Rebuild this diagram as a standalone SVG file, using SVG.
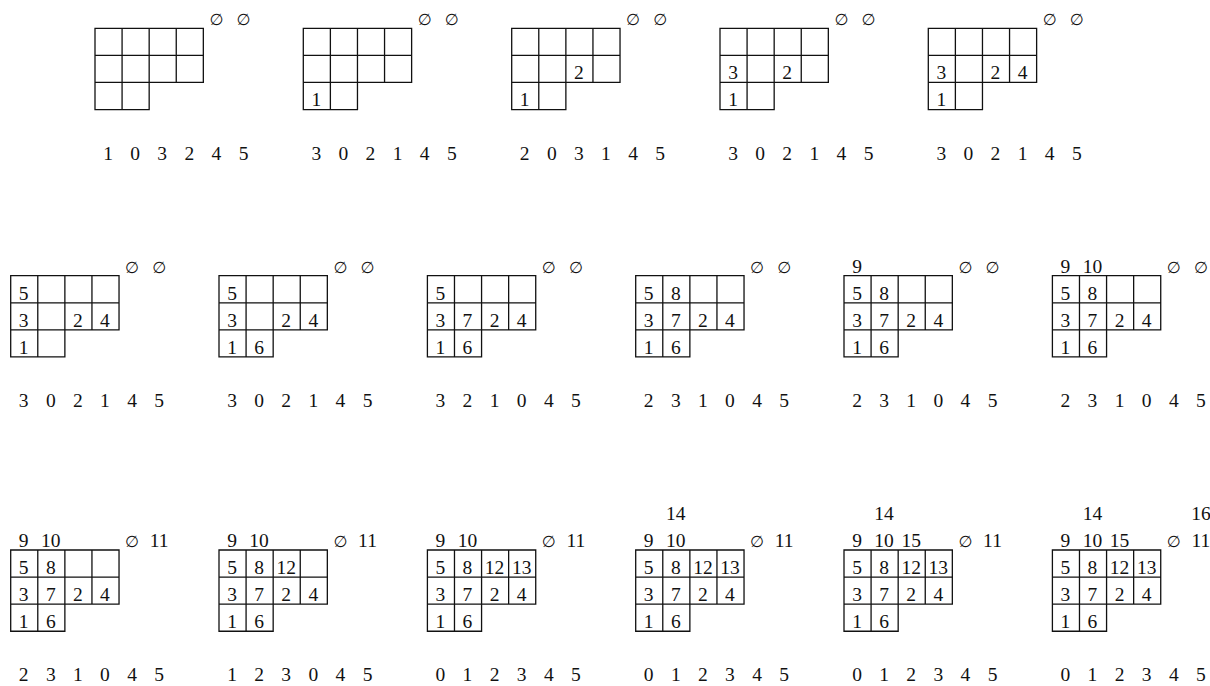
<svg xmlns="http://www.w3.org/2000/svg" xmlns:xlink="http://www.w3.org/1999/xlink" width="1210" height="686" viewBox="0 0 1210 686">
<style>
text{font-family:"Liberation Serif","DejaVu Serif",serif;font-size:19.5px;fill:#111;text-anchor:middle}
.e{font-family:"DejaVu Sans","Liberation Serif",sans-serif;font-size:16px}
.g{fill:none;stroke:#111;stroke-width:1.3}
</style>
<defs>
<path id="grid" class="g" d="M0,0H108.33V54.17H54.17V81.25H0Z M0,27.08H108.33 M0,54.17H54.17 M27.08,0V81.25 M54.17,0V54.17 M81.25,0V54.17"/>
</defs>
<rect width="1210" height="686" fill="#fff"/>

<!-- Row 1 -->
<g id="p1-1" transform="translate(95,28.3)">
<use xlink:href="#grid"/>
<text class="e" x="121.4 148.5" y="-3">∅∅</text>
<text x="13 40.1 67.2 94.3 121.4 148.5" y="131.3">103245</text>
</g>
<g id="p1-2" transform="translate(303.3,28.3)">
<use xlink:href="#grid"/>
<text class="e" x="121.4 148.5" y="-3">∅∅</text>
<text x="13" y="78.2">1</text>
<text x="13 40.1 67.2 94.3 121.4 148.5" y="131.3">302145</text>
</g>
<g id="p1-3" transform="translate(511.7,28.3)">
<use xlink:href="#grid"/>
<text class="e" x="121.4 148.5" y="-3">∅∅</text>
<text x="13" y="78.2">1</text>
<text x="67.2" y="51.2">2</text>
<text x="13 40.1 67.2 94.3 121.4 148.5" y="131.3">203145</text>
</g>
<g id="p1-4" transform="translate(720,28.3)">
<use xlink:href="#grid"/>
<text class="e" x="121.4 148.5" y="-3">∅∅</text>
<text x="13" y="78.2">1</text>
<text x="13 67.2" y="51.2">32</text>
<text x="13 40.1 67.2 94.3 121.4 148.5" y="131.3">302145</text>
</g>
<g id="p1-5" transform="translate(928.3,28.3)">
<use xlink:href="#grid"/>
<text class="e" x="121.4 148.5" y="-3">∅∅</text>
<text x="13" y="78.2">1</text>
<text x="13 67.2 94.3" y="51.2">324</text>
<text x="13 40.1 67.2 94.3 121.4 148.5" y="131.3">302145</text>
</g>

<!-- Row 2 -->
<g id="p2-1" transform="translate(10.7,275.7)">
<use xlink:href="#grid"/>
<text class="e" x="121.4 148.5" y="-3">∅∅</text>
<text x="13" y="24.1">5</text>
<text x="13 67.2 94.3" y="51.2">324</text>
<text x="13" y="78.2">1</text>
<text x="13 40.1 67.2 94.3 121.4 148.5" y="131.3">302145</text>
</g>
<g id="p2-2" transform="translate(219,275.7)">
<use xlink:href="#grid"/>
<text class="e" x="121.4 148.5" y="-3">∅∅</text>
<text x="13" y="24.1">5</text>
<text x="13 67.2 94.3" y="51.2">324</text>
<text x="13 40.1" y="78.2">16</text>
<text x="13 40.1 67.2 94.3 121.4 148.5" y="131.3">302145</text>
</g>
<g id="p2-3" transform="translate(427.4,275.7)">
<use xlink:href="#grid"/>
<text class="e" x="121.4 148.5" y="-3">∅∅</text>
<text x="13" y="24.1">5</text>
<text x="13 40.1 67.2 94.3" y="51.2">3724</text>
<text x="13 40.1" y="78.2">16</text>
<text x="13 40.1 67.2 94.3 121.4 148.5" y="131.3">321045</text>
</g>
<g id="p2-4" transform="translate(635.7,275.7)">
<use xlink:href="#grid"/>
<text class="e" x="121.4 148.5" y="-3">∅∅</text>
<text x="13 40.1" y="24.1">58</text>
<text x="13 40.1 67.2 94.3" y="51.2">3724</text>
<text x="13 40.1" y="78.2">16</text>
<text x="13 40.1 67.2 94.3 121.4 148.5" y="131.3">231045</text>
</g>
<g id="p2-5" transform="translate(844,275.7)">
<use xlink:href="#grid"/>
<text class="e" x="121.4 148.5" y="-3">∅∅</text>
<text x="13" y="-3">9</text>
<text x="13 40.1" y="24.1">58</text>
<text x="13 40.1 67.2 94.3" y="51.2">3724</text>
<text x="13 40.1" y="78.2">16</text>
<text x="13 40.1 67.2 94.3 121.4 148.5" y="131.3">231045</text>
</g>
<g id="p2-6" transform="translate(1052.4,275.7)">
<use xlink:href="#grid"/>
<text class="e" x="121.4 148.5" y="-3">∅∅</text>
<text x="13" y="-3">9</text>
<text x="40.1" y="-3">10</text>
<text x="13 40.1" y="24.1">58</text>
<text x="13 40.1 67.2 94.3" y="51.2">3724</text>
<text x="13 40.1" y="78.2">16</text>
<text x="13 40.1 67.2 94.3 121.4 148.5" y="131.3">231045</text>
</g>

<!-- Row 3 -->
<g id="p3-1" transform="translate(10.7,550)">
<use xlink:href="#grid"/>
<text class="e" x="121.4" y="-3">∅</text>
<text x="148.5" y="-3">11</text>
<text x="13" y="-3">9</text>
<text x="40.1" y="-3">10</text>
<text x="13 40.1" y="24.1">58</text>
<text x="13 40.1 67.2 94.3" y="51.2">3724</text>
<text x="13 40.1" y="78.2">16</text>
<text x="13 40.1 67.2 94.3 121.4 148.5" y="131.3">231045</text>
</g>
<g id="p3-2" transform="translate(219,550)">
<use xlink:href="#grid"/>
<text class="e" x="121.4" y="-3">∅</text>
<text x="148.5" y="-3">11</text>
<text x="13" y="-3">9</text>
<text x="40.1" y="-3">10</text>
<text x="13 40.1" y="24.1">58</text>
<text x="67.2" y="24.1">12</text>
<text x="13 40.1 67.2 94.3" y="51.2">3724</text>
<text x="13 40.1" y="78.2">16</text>
<text x="13 40.1 67.2 94.3 121.4 148.5" y="131.3">123045</text>
</g>
<g id="p3-3" transform="translate(427.4,550)">
<use xlink:href="#grid"/>
<text class="e" x="121.4" y="-3">∅</text>
<text x="148.5" y="-3">11</text>
<text x="13" y="-3">9</text>
<text x="40.1" y="-3">10</text>
<text x="13 40.1" y="24.1">58</text>
<text x="67.2" y="24.1">12</text>
<text x="94.3" y="24.1">13</text>
<text x="13 40.1 67.2 94.3" y="51.2">3724</text>
<text x="13 40.1" y="78.2">16</text>
<text x="13 40.1 67.2 94.3 121.4 148.5" y="131.3">012345</text>
</g>
<g id="p3-4" transform="translate(635.7,550)">
<use xlink:href="#grid"/>
<text class="e" x="121.4" y="-3">∅</text>
<text x="148.5" y="-3">11</text>
<text x="40.1" y="-30.1">14</text>
<text x="13" y="-3">9</text>
<text x="40.1" y="-3">10</text>
<text x="13 40.1" y="24.1">58</text>
<text x="67.2" y="24.1">12</text>
<text x="94.3" y="24.1">13</text>
<text x="13 40.1 67.2 94.3" y="51.2">3724</text>
<text x="13 40.1" y="78.2">16</text>
<text x="13 40.1 67.2 94.3 121.4 148.5" y="131.3">012345</text>
</g>
<g id="p3-5" transform="translate(844,550)">
<use xlink:href="#grid"/>
<text class="e" x="121.4" y="-3">∅</text>
<text x="148.5" y="-3">11</text>
<text x="40.1" y="-30.1">14</text>
<text x="13" y="-3">9</text>
<text x="40.1" y="-3">10</text>
<text x="67.2" y="-3">15</text>
<text x="13 40.1" y="24.1">58</text>
<text x="67.2" y="24.1">12</text>
<text x="94.3" y="24.1">13</text>
<text x="13 40.1 67.2 94.3" y="51.2">3724</text>
<text x="13 40.1" y="78.2">16</text>
<text x="13 40.1 67.2 94.3 121.4 148.5" y="131.3">012345</text>
</g>
<g id="p3-6" transform="translate(1052.4,550)">
<use xlink:href="#grid"/>
<text class="e" x="121.4" y="-3">∅</text>
<text x="148.5" y="-3">11</text>
<text x="40.1" y="-30.1">14</text>
<text x="148.5" y="-30.1">16</text>
<text x="13" y="-3">9</text>
<text x="40.1" y="-3">10</text>
<text x="67.2" y="-3">15</text>
<text x="13 40.1" y="24.1">58</text>
<text x="67.2" y="24.1">12</text>
<text x="94.3" y="24.1">13</text>
<text x="13 40.1 67.2 94.3" y="51.2">3724</text>
<text x="13 40.1" y="78.2">16</text>
<text x="13 40.1 67.2 94.3 121.4 148.5" y="131.3">012345</text>
</g>
</svg>
